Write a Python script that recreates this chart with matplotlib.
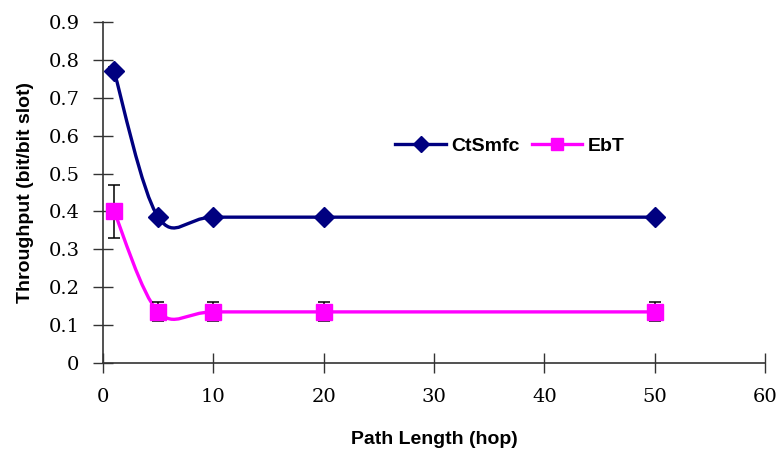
import matplotlib
matplotlib.use("Agg")
import matplotlib.pyplot as plt
from matplotlib.path import Path
from matplotlib.patches import PathPatch

# data
hops = [1, 5, 10, 20, 50]
ctsmfc = [0.77, 0.385, 0.385, 0.385, 0.385]
ctsmfc_err = [0.01, 0, 0, 0, 0]
ebt = [0.40, 0.135, 0.135, 0.135, 0.135]
ebt_err = [0.07, 0.025, 0.025, 0.025, 0.025]
xticks = [0, 10, 20, 30, 40, 50, 60]
yticks = [0, 0.1, 0.2, 0.3, 0.4, 0.5, 0.6, 0.7, 0.8, 0.9]


def smooth_path(xs, ys):
    # Excel-style smoothed line: Catmull-Rom segments as cubic Beziers
    pts = list(zip(xs, ys))
    verts = [pts[0]]
    codes = [Path.MOVETO]
    n = len(pts)
    for i in range(n - 1):
        p0 = pts[max(i - 1, 0)]
        p1 = pts[i]
        p2 = pts[i + 1]
        p3 = pts[min(i + 2, n - 1)]
        c1 = (p1[0] + (p2[0] - p0[0]) / 6, p1[1] + (p2[1] - p0[1]) / 6)
        c2 = (p2[0] - (p3[0] - p1[0]) / 6, p2[1] - (p3[1] - p1[1]) / 6)
        verts += [c1, c2, p2]
        codes += [Path.CURVE4] * 3
    return Path(verts, codes)


fig = plt.figure(figsize=(7.77, 4.51), dpi=100)
ax = fig.add_axes([0.1326, 0.195, 0.852, 0.7562])

series = [
    ("CtSmfc", ctsmfc, ctsmfc_err, "#000080", "D", 10, 8),
    ("EbT", ebt, ebt_err, "#FF00FF", "s", 12, 8),
]
for name, ys, err, color, marker, ms, lms in series:
    ax.add_patch(PathPatch(smooth_path(hops, ys), fill=False, edgecolor=color,
                           lw=2.4, zorder=2))
    ax.errorbar(hops, ys, yerr=err, fmt="none", ecolor="black", elinewidth=1.1,
                capsize=4.5, capthick=1.1, zorder=3)
    ax.plot(hops, ys, linestyle="none", marker=marker, ms=ms, color=color,
            zorder=4)
    # legend proxy
    ax.plot([], [], color=color, lw=2.4, marker=marker, ms=lms, label=name)

ax.set_xlim(0, 60)
ax.set_ylim(0, 0.9)
ax.set_xticks(xticks)
ax.set_yticks(yticks)
ax.set_xticklabels([str(t) for t in xticks], family="DejaVu Serif", fontsize=14)
ax.set_yticklabels(["0" if t == 0 else f"{t:.1f}" for t in yticks],
                   family="DejaVu Serif", fontsize=14)
ax.tick_params(direction="inout", length=14, width=1, color="#333333")
ax.tick_params(axis="y", pad=10)
ax.tick_params(axis="x", pad=11)

for side in ["top", "right"]:
    ax.spines[side].set_visible(False)
for side in ["left", "bottom"]:
    ax.spines[side].set_color("#333333")
    ax.spines[side].set_linewidth(1.2)

ax.set_xlabel("Path Length (hop)", family="Liberation Sans", fontweight="bold",
              fontsize=14, labelpad=18)
ax.set_ylabel("Throughput (bit/bit slot)", family="Liberation Sans",
              fontweight="bold", fontsize=14, labelpad=10)

ax.legend(loc="center", bbox_to_anchor=(0.615, 0.636), ncol=2, frameon=False,
          prop={"family": "Liberation Sans", "weight": "bold", "size": 14},
          handlelength=2.6, columnspacing=0.6, handletextpad=0.3)

fig.savefig("out.png", dpi=100)
